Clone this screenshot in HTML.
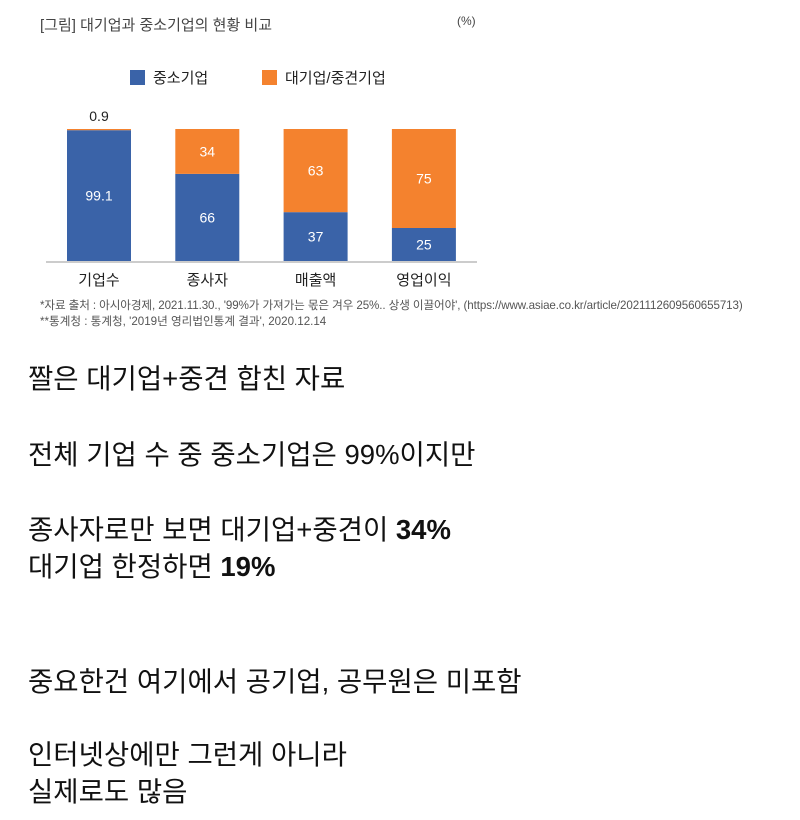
<!DOCTYPE html>
<html><head><meta charset="utf-8"><style>
body{margin:0;width:800px;height:820px;background:#fff;font-family:"Liberation Sans","Noto Sans CJK KR",sans-serif;overflow:hidden;position:relative}
.t{position:absolute;white-space:nowrap}
.body{font-size:27.5px;color:#111;left:28px}
</style></head><body>
<div class="t" style="left:40px;top:14px;font-size:15px;color:#444">[그림] 대기업과 중소기업의 현황 비교</div>
<div class="t" style="left:457px;top:14px;font-size:12px;color:#444">(%)</div>
<svg id="chart" width="800" height="340" style="position:absolute;left:0;top:0">
<rect x="130" y="70" width="15" height="15" fill="#3a63a8"/>
<text x="153" y="83" font-size="15" fill="#222">중소기업</text>
<rect x="262" y="70" width="15" height="15" fill="#f4822e"/>
<text x="285" y="83" font-size="15" fill="#222">대기업/중견기업</text>
<line x1="46" y1="262" x2="477" y2="262" stroke="#bbb" stroke-width="1.5"/>
</svg>
<div class="t" style="left:40px;top:297px;font-size:11.6px;color:#555;letter-spacing:-0.1px">*자료 출처 : 아시아경제, 2021.11.30., '99%가 가져가는 몫은 겨우 25%.. 상생 이끌어야', (https://www.asiae.co.kr/article/2021112609560655713)</div>
<div class="t" style="left:40px;top:313px;font-size:11.6px;color:#555">**통계청 : 통계청, '2019년 영리법인통계 결과', 2020.12.14</div>
<div class="t body" style="top:356px">짤은 대기업+중견 합친 자료</div>
<div class="t body" style="top:432px">전체 기업 수 중 중소기업은 99%이지만</div>
<div class="t body" style="top:507px">종사자로만 보면 대기업+중견이 <b>34%</b></div>
<div class="t body" style="top:544px">대기업 한정하면 <b>19%</b></div>
<div class="t body" style="top:659px">중요한건 여기에서 공기업, 공무원은 미포함</div>
<div class="t body" style="top:732px">인터넷상에만 그런게 아니라</div>
<div class="t body" style="top:769px">실제로도 많음</div>
<script>
const categories=["기업수","종사자","매출액","영업이익"];
const smeValues=[99.1,66,37,25];
const largeValues=[0.9,34,63,75];
const svg=document.getElementById('chart');
const NS="http://www.w3.org/2000/svg";
const baseY=261, pxPer=1.32, x0=67, step=108.3, bw=64;
function yScale(v){return baseY-v*pxPer;}
function xPos(i){return x0+i*step;}
function mk(tag,attrs){const e=document.createElementNS(NS,tag);for(const k in attrs)e.setAttribute(k,attrs[k]);svg.appendChild(e);return e;}
categories.forEach((c,i)=>{
  const x=xPos(i), s=smeValues[i], l=largeValues[i];
  const b=mk('rect',{x:x,y:yScale(s),width:bw,height:baseY-yScale(s),fill:'#3a63a8'});
  
  
  const o=mk('rect',{x:x,y:yScale(s+l),width:bw,height:yScale(s)-yScale(s+l),fill:'#f4822e'});
  
  
  const st=mk('text',{x:x+bw/2,y:(yScale(s)+baseY)/2+5,'text-anchor':'middle','font-size':14,fill:'#fff'});
  st.textContent=String(s);
  
  
  const lt=mk('text',{'text-anchor':'middle','font-size':14});
  lt.textContent=String(l);
  if(l<10){lt.setAttribute('x',x+bw/2);lt.setAttribute('y',yScale(s+l)-8);lt.setAttribute('fill','#222');}
  else{lt.setAttribute('x',x+bw/2);lt.setAttribute('y',(yScale(s+l)+yScale(s))/2+5);lt.setAttribute('fill','#fff');}
  
  
  const cl=mk('text',{x:x+bw/2,y:285,'text-anchor':'middle','font-size':15,fill:'#222'});
  cl.textContent=c;
  
  
});
</script>
</body></html>
